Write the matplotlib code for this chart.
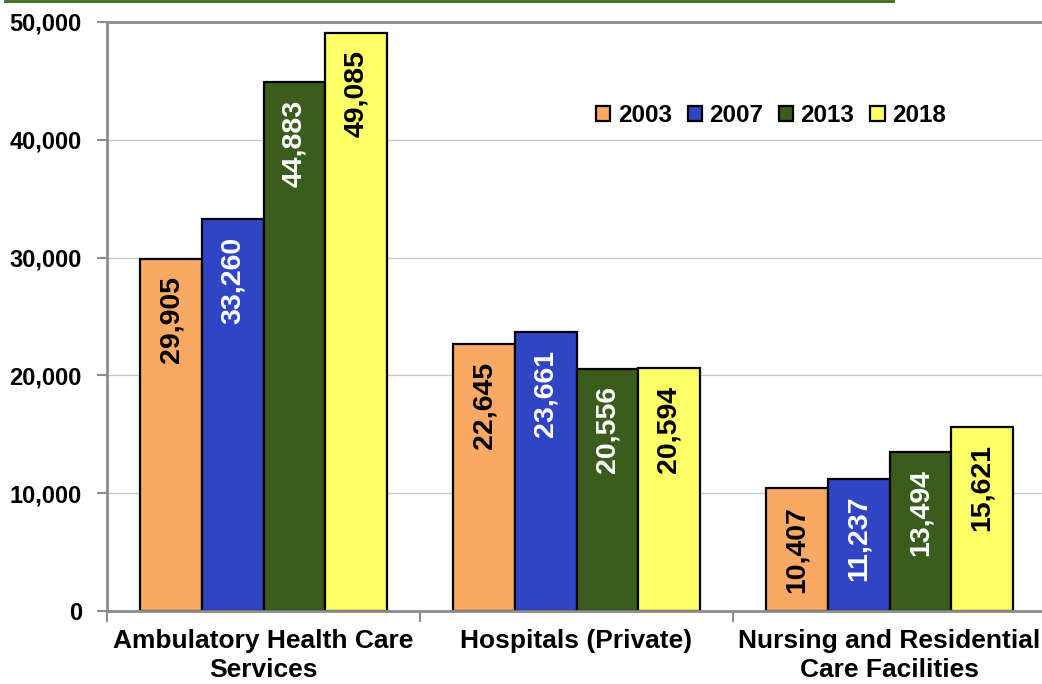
import matplotlib
matplotlib.use("Agg")
import matplotlib.pyplot as plt
import numpy as np
from matplotlib.lines import Line2D
from matplotlib.ticker import FuncFormatter

categories = ["Ambulatory Health Care\nServices", "Hospitals (Private)", "Nursing and Residential\nCare Facilities"]
years = ["2003", "2007", "2013", "2018"]
v2003 = [29905, 22645, 10407]
v2007 = [33260, 23661, 11237]
v2013 = [44883, 20556, 13494]
v2018 = [49085, 20594, 15621]
series = [v2003, v2007, v2013, v2018]
colors = ["#F9A964", "#3045C4", "#3A5C1C", "#FFFF66"]
label_colors = ["black", "white", "white", "black"]

plt.rcParams['font.family'] = ['Liberation Sans', 'DejaVu Sans']
plt.rcParams['font.weight'] = 'bold'

fig = plt.figure(figsize=(10.42, 6.84), dpi=100)
ax = fig.add_axes([107/1042, (684-611)/684, 1 - 107/1042, (611-22)/684])

x = np.arange(len(categories))
bw = 0.197
for i, (vals, c, lc) in enumerate(zip(series, colors, label_colors)):
    pos = x + (i - 1.5) * bw
    bars = ax.bar(pos, vals, width=bw, color=c, edgecolor="black", linewidth=1.6, label=years[i], zorder=2)
    for b, v in zip(bars, vals):
        ax.annotate(f"{v:,}", (b.get_x() + b.get_width()/2, v), xytext=(0, -12.5),
                    textcoords="offset points", rotation=90, ha="center", va="top",
                    fontsize=20.5, fontweight="bold", color=lc, zorder=3)

ax.set_ylim(0, 50000)
ax.set_xlim(-0.5, 2.5 - 4/313)
ax.set_yticks(np.arange(0, 50001, 10000))
ax.yaxis.set_major_formatter(FuncFormatter(lambda v, p: f"{int(v):,}"))
ax.set_xticks(x)
ax.set_xticklabels(categories, fontsize=19, fontweight="bold", linespacing=1.25)
ax.set_xticks([-0.5, 0.5, 1.5], minor=True)
ax.tick_params(axis="x", which="major", length=0, pad=13)
ax.tick_params(axis="x", which="minor", length=8, width=1.5, color="#8c8c8c", direction="out")
ax.tick_params(axis="y", length=7, width=1.5, color="#8c8c8c", pad=11, labelsize=17)
for lab in ax.get_yticklabels():
    lab.set_fontweight("bold")

ax.grid(axis="y", color="#c8c8c8", linewidth=1.0, zorder=0)
ax.set_axisbelow(True)
for s in ["left", "bottom", "top"]:
    ax.spines[s].set_color("#8c8c8c")
    ax.spines[s].set_linewidth(2.0)
    ax.spines[s].set_zorder(4)
ax.spines["right"].set_visible(False)

leg = ax.legend(ncol=4, loc="center", bbox_to_anchor=((771-107)/935, (611-116)/589),
                frameon=False, fontsize=17.5, handlelength=0.58, handleheight=0.58,
                handletextpad=0.3, columnspacing=0.66, borderaxespad=0)
for t in leg.get_texts():
    t.set_fontweight("bold")
for h in leg.legend_handles:
    h.set_linewidth(1.6)

fig.add_artist(Line2D([5/1042, 893/1042], [1 - 1/684, 1 - 1/684], color="#3A6B1E", linewidth=2, transform=fig.transFigure))

fig.savefig("out.png", dpi=100)
